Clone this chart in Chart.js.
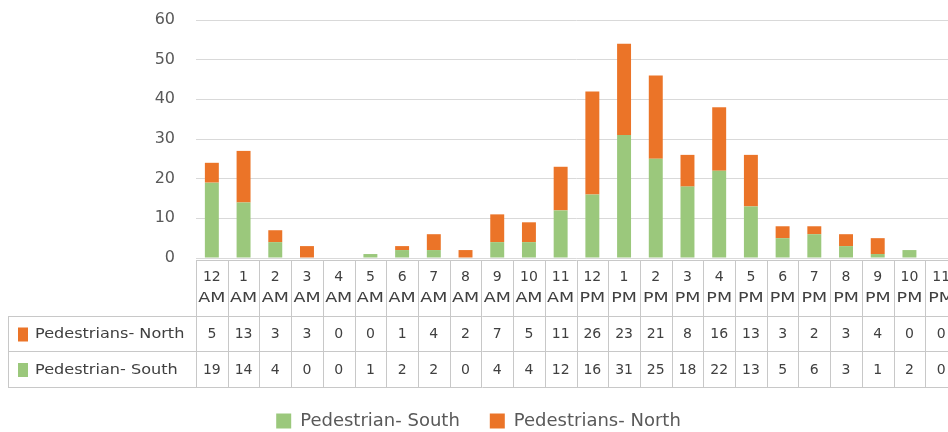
<!DOCTYPE html>
<html>
<head>
<meta charset="utf-8">
<script src="https://cdn.jsdelivr.net/npm/chart.js@4/dist/chart.umd.min.js"></script>
<style>
  html, body { margin: 0; padding: 0; background: #ffffff; overflow: hidden; width: 948px; height: 432px; }
  #wrap { width: 957px; height: 432px; }
</style>
</head>
<body>
<div id="wrap"><canvas id="c" width="957" height="432"></canvas></div>
<script>
// Hour of day, two lines per column
const hours = ['12', '1', '2', '3', '4', '5', '6', '7', '8', '9', '10', '11',
               '12', '1', '2', '3', '4', '5', '6', '7', '8', '9', '10', '11'];
const periods = ['AM', 'AM', 'AM', 'AM', 'AM', 'AM', 'AM', 'AM', 'AM', 'AM', 'AM', 'AM',
                 'PM', 'PM', 'PM', 'PM', 'PM', 'PM', 'PM', 'PM', 'PM', 'PM', 'PM', 'PM'];

// Pedestrian counts per hour
const pedestriansNorth = [5, 13, 3, 3, 0, 0, 1, 4, 2, 7, 5, 11, 26, 23, 21, 8, 16, 13, 3, 2, 3, 4, 0, 0];
const pedestrianSouth  = [19, 14, 4, 0, 0, 1, 2, 2, 0, 4, 4, 12, 16, 31, 25, 18, 22, 13, 5, 6, 3, 1, 2, 0];

const yTicks = [0, 10, 20, 30, 40, 50, 60];

const GREEN = '#9bc87c';
const ORANGE = '#eb7428';
const TEXT = '#404040';
const LINE = '#c8c8c8';

const PLOT_BOTTOM = 258;
const PAD_BOTTOM = -8;

const labels = hours.map((h, i) => [h, periods[i]]);

// Data table drawn under the plot, aligned with the category scale
const dataTable = {
  id: 'dataTable',
  afterDraw(chart) {
    const ctx = chart.ctx;
    const x = chart.scales.x;
    const n = chart.data.labels.length;
    const w = x.width / n;
    const base = chart.chartArea.bottom;
    const top = base + 2;
    const headBottom = base + 58;
    const row1Bottom = base + 93;
    const row2Bottom = base + 129;
    const leftEdge = 8;

    ctx.save();
    ctx.strokeStyle = LINE;
    ctx.lineWidth = 1;
    ctx.beginPath();
    // horizontal rules
    ctx.moveTo(x.left, top + 0.5); ctx.lineTo(x.right, top + 0.5);
    ctx.moveTo(leftEdge, headBottom + 0.5); ctx.lineTo(x.right, headBottom + 0.5);
    ctx.moveTo(leftEdge, row1Bottom + 0.5); ctx.lineTo(x.right, row1Bottom + 0.5);
    ctx.moveTo(leftEdge, row2Bottom + 0.5); ctx.lineTo(x.right, row2Bottom + 0.5);
    // vertical rules
    ctx.moveTo(leftEdge + 0.5, headBottom); ctx.lineTo(leftEdge + 0.5, row2Bottom);
    for (let i = 0; i <= n; i++) {
      const px = Math.round(x.left + i * w) + 0.5;
      ctx.moveTo(px, top); ctx.lineTo(px, row2Bottom);
    }
    ctx.stroke();

    ctx.fillStyle = TEXT;
    ctx.font = '14px "DejaVu Sans"';
    ctx.textAlign = 'center';
    ctx.textBaseline = 'middle';
    const north = chart.data.datasets[1].data;
    const south = chart.data.datasets[0].data;
    for (let i = 0; i < n; i++) {
      const cx = x.getPixelForValue(i);
      const lab = chart.data.labels[i];
      ctx.fillText(lab[0], cx, base + 19);
      ctx.save();
      ctx.translate(cx, base + 40);
      ctx.scale(1.25, 1);
      ctx.fillText(lab[1], 0, 0);
      ctx.restore();
      ctx.fillText(String(north[i]), cx, (headBottom + row1Bottom) / 2 + 1);
      ctx.fillText(String(south[i]), cx, (row1Bottom + row2Bottom) / 2 + 1);
    }

    // row headers with series keys
    ctx.textAlign = 'left';
    const rows = [
      { ds: chart.data.datasets[1], y: (headBottom + row1Bottom) / 2 + 1 },
      { ds: chart.data.datasets[0], y: (row1Bottom + row2Bottom) / 2 + 1 }
    ];
    rows.forEach(r => {
      ctx.fillStyle = r.ds.backgroundColor;
      ctx.fillRect(18, r.y - 7, 10, 14);
      ctx.fillStyle = TEXT;
      ctx.save();
      ctx.translate(35, r.y);
      ctx.scale(1.15, 1);
      ctx.fillText(r.ds.label, 0, 0);
      ctx.restore();
    });
    ctx.restore();
  }
};

new Chart(document.getElementById('c'), {
  type: 'bar',
  data: {
    labels: labels,
    datasets: [
      { label: 'Pedestrian- South', data: pedestrianSouth, backgroundColor: GREEN },
      { label: 'Pedestrians- North', data: pedestriansNorth, backgroundColor: ORANGE }
    ]
  },
  options: {
    responsive: false,
    animation: false,
    layout: { padding: { top: 20, left: 0, right: 0, bottom: PAD_BOTTOM } },
    datasets: { bar: { categoryPercentage: 1, barPercentage: 0.44 } },
    plugins: {
      legend: {
        position: 'bottom',
        labels: {
          boxWidth: 15, boxHeight: 15, padding: 30,
          color: '#595959',
          font: { family: '"DejaVu Sans"', size: 18 }
        }
      },
      tooltip: { enabled: false }
    },
    scales: {
      x: {
        stacked: true,
        grid: { display: false, drawTicks: false },
        border: { display: false },
        ticks: { display: false },
        afterFit(scale) {
          const lg = scale.chart.legend;
          const lh = lg && lg.height ? lg.height : 0;
          scale.height = scale.chart.height - PAD_BOTTOM - PLOT_BOTTOM - lh;
        }
      },
      y: {
        stacked: true,
        min: 0,
        max: 60,
        afterBuildTicks(scale) { scale.ticks = yTicks.map(v => ({ value: v })); },
        grid: { color: '#d9d9d9', drawTicks: true, tickLength: 21, tickColor: 'rgba(0,0,0,0)' },
        border: { display: false },
        ticks: {
          color: '#595959',
          padding: 0,
          font: { family: '"DejaVu Sans"', size: 16 }
        },
        afterFit(scale) { scale.width = 196; }
      }
    }
  },
  plugins: [dataTable]
});
</script>
</body>
</html>
